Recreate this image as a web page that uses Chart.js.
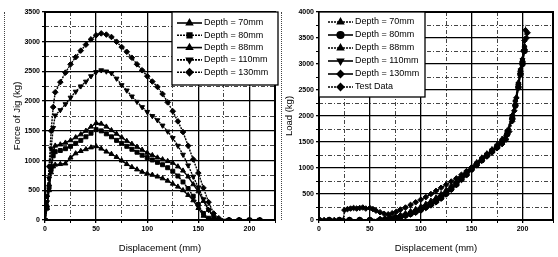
<!DOCTYPE html>
<html>
<head>
<meta charset="utf-8">
<script src="https://cdn.jsdelivr.net/npm/chart.js@4.4.0/dist/chart.umd.min.js"></script>
<style>
  body { margin: 0; background: #fff; width: 558px; height: 257px; position: relative; overflow: hidden; }
  .panel { position: absolute; top: 0; width: 280px; height: 257px; }
  #leftPanel { left: 0; }
  #rightPanel { left: 278px; }
  .cut { position: absolute; top: 12px; height: 208px; border-left: 1px dotted #444; }
</style>
</head>
<body>
<div class="cut" style="left:4px"></div>
<div class="cut" style="left:281px"></div>
<div class="panel" id="leftPanel"><canvas id="leftChart" width="280" height="257"></canvas></div>
<div class="panel" id="rightPanel"><canvas id="rightChart" width="280" height="257"></canvas></div>
<script>
// left chart: force of jig vs displacement
const leftX = [0, 2, 4, 6, 8, 10, 15, 20, 25, 30, 35, 40, 45, 50, 55, 60, 65, 70, 75, 80, 85, 90, 95, 100,
  105, 110, 115, 120, 125, 130, 135, 140, 145, 150, 155, 160, 165, 170, 180, 190, 200, 210];
const depth70 = [0, 200, 500, 800, 900, 930, 940, 950, 1050, 1120, 1160, 1190, 1220, 1240, 1200, 1150, 1110, 1060, 1000, 940,
  890, 850, 810, 780, 760, 730, 700, 660, 610, 560, 500, 420, 330, 200, 70, 10, 0, 0, 0, 0, 0, 0];
const depth80 = [0, 200, 550, 850, 1080, 1150, 1170, 1200, 1240, 1290, 1340, 1400, 1460, 1520, 1500, 1450, 1400, 1340, 1290, 1240,
  1190, 1140, 1090, 1050, 1010, 970, 930, 880, 820, 740, 640, 530, 400, 260, 110, 30, 0, 0, 0, 0, 0, 0];
const depth88 = [0, 250, 600, 900, 1150, 1250, 1270, 1300, 1340, 1390, 1440, 1500, 1570, 1630, 1620, 1570, 1510, 1450, 1390, 1330,
  1280, 1230, 1180, 1130, 1090, 1050, 1020, 990, 960, 900, 830, 730, 600, 480, 320, 170, 50, 0, 0, 0, 0, 0];
const depth110 = [0, 300, 700, 1200, 1550, 1760, 1850, 1950, 2060, 2160, 2250, 2330, 2420, 2490, 2520, 2500, 2470, 2380, 2270, 2180,
  2080, 1990, 1900, 1820, 1750, 1680, 1590, 1490, 1380, 1250, 1100, 920, 730, 550, 350, 170, 50, 0, 0, 0, 0, 0];
const depth130 = [0, 400, 900, 1500, 1900, 2150, 2320, 2480, 2620, 2740, 2850, 2950, 3040, 3110, 3140, 3120, 3080, 3000, 2910, 2830,
  2730, 2620, 2520, 2420, 2330, 2240, 2120, 1980, 1830, 1660, 1480, 1250, 1020, 790, 540, 300, 110, 30, 0, 0, 0, 0];
const leftLabels = ['Depth = 70mm', 'Depth = 80mm', 'Depth = 88mm', 'Depth = 110mm', 'Depth = 130mm'];

// right chart: load vs displacement, simulations and test
const simX = [0, 10, 20, 30, 40, 50, 60, 65, 70, 75, 80, 85, 90, 95, 100, 105, 110, 115, 120, 125, 130, 135, 140, 145,
  150, 155, 160, 165, 170, 175, 180, 185, 190, 193, 196, 198, 200, 202];
const sim70 = [0, 0, 0, 0, 0, 0, 10, 20, 30, 50, 70, 100, 130, 170, 210, 260, 310, 380, 450, 530, 620, 710, 800, 900,
  1000, 1080, 1170, 1250, 1330, 1420, 1520, 1680, 1980, 2250, 2600, 2850, 3050, 3300];
const sim80 = [0, 0, 0, 0, 0, 0, 0, 10, 25, 40, 60, 90, 120, 160, 200, 250, 300, 360, 430, 510, 600, 690, 790, 880,
  980, 1070, 1150, 1240, 1320, 1400, 1500, 1650, 1950, 2200, 2550, 2800, 3000, 3250];
const sim88 = [0, 0, 0, 0, 0, 5, 20, 35, 50, 70, 100, 130, 170, 210, 260, 310, 370, 430, 500, 580, 660, 750, 840, 930,
  1020, 1110, 1200, 1280, 1360, 1450, 1560, 1720, 2020, 2300, 2650, 2900, 3100, 3350];
const sim110 = [0, 0, 0, 0, 0, 0, 5, 15, 30, 45, 65, 95, 125, 165, 205, 255, 305, 370, 440, 520, 610, 700, 790, 890,
  990, 1090, 1180, 1260, 1340, 1430, 1530, 1700, 2000, 2280, 2620, 2880, 3080, 3320];
const sim130 = [0, 0, 0, 0, 0, 0, 0, 0, 15, 30, 50, 75, 105, 140, 180, 230, 280, 340, 410, 490, 580, 670, 770, 860,
  960, 1050, 1140, 1230, 1310, 1390, 1490, 1640, 1940, 2200, 2560, 2820, 3020, 3280];
const testX = [0, 5, 10, 15, 20, 24, 25, 28, 31, 34, 37, 40, 43, 46, 50, 53, 56, 60, 64, 68, 72, 76, 80, 85, 90, 95,
  100, 105, 110, 115, 120, 125, 130, 135, 140, 145, 150, 155, 160, 165, 170, 175, 180, 184, 187, 190, 192, 194,
  196, 198, 200, 201, 202, 203, 204, 205];
const testY = [0, 0, 0, 0, 0, 0, 190, 210, 220, 230, 220, 230, 240, 220, 230, 210, 180, 150, 120, 110, 130, 160, 200, 240, 290, 340,
  390, 440, 500, 560, 620, 680, 740, 800, 870, 940, 1010, 1080, 1150, 1220, 1300, 1380, 1460, 1550, 1700, 1900, 2100, 2350,
  2600, 2850, 3050, 3250, 3450, 3650, 3500, 3600];
const rightLabels = ['Depth = 70mm', 'Depth = 80mm', 'Depth = 88mm', 'Depth = 110mm', 'Depth = 130mm', 'Test Data'];

const FONT = 'Liberation Sans';

function pts(xs, ys) {
  return xs.map((x, i) => ({ x: x, y: ys[i] }));
}

function series(label, xs, ys, style, rot, dash) {
  return {
    label: label,
    data: pts(xs, ys),
    borderColor: '#000',
    backgroundColor: '#000',
    borderWidth: 1.4,
    borderDash: dash || [],
    pointStyle: style,
    rotation: rot || 0,
    pointRadius: 2.8,
    pointBorderWidth: 1,
    pointBackgroundColor: '#000',
    pointBorderColor: '#000',
    tension: 0
  };
}

function axis(max, step, major, title, titlePad, isY, size) {
  return {
    type: 'linear',
    min: 0,
    max: max,
    afterFit: s => { if (isY) s.width = size; else s.height = size; },
    ticks: {
      stepSize: step,
      autoSkip: false,
      maxRotation: 0,
      padding: 2,
      color: '#000',
      font: { size: 7, family: FONT, weight: 'bold' },
      callback: v => (v % major === 0 ? v : '')
    },
    grid: {
      color: c => (c.tick && c.tick.value % major !== 0 ? '#444' : '#000'),
      lineWidth: c => (c.tick && c.tick.value % major !== 0 ? 1 : 1.3),
      tickLength: 3,
      tickColor: '#000'
    },
    border: {
      display: false,
      dash: c => (c.tick && c.tick.value % major !== 0 ? [4, 2, 1, 2] : [])
    },
    title: {
      display: true,
      text: title,
      color: '#000',
      font: { size: 9.5, family: FONT },
      padding: titlePad
    }
  };
}

// box round the plot area
const framePlugin = {
  id: 'frame',
  afterDraw(chart) {
    const a = chart.chartArea, ctx = chart.ctx;
    ctx.save();
    ctx.strokeStyle = '#000';
    ctx.lineWidth = 2;
    ctx.strokeRect(a.left, a.top, a.right - a.left, a.bottom - a.top);
    ctx.restore();
  }
};

// legend with line + marker samples, drawn in a box inside the plot
function boxLegend(box) {
  return {
    id: 'boxLegend',
    afterDraw(chart) {
      const ctx = chart.ctx;
      ctx.save();
      ctx.fillStyle = '#fff';
      ctx.fillRect(box.x, box.y, box.w, box.h);
      ctx.strokeStyle = '#000';
      ctx.lineWidth = 1.3;
      ctx.strokeRect(box.x, box.y, box.w, box.h);
      ctx.font = '9px "' + FONT + '"';
      ctx.textBaseline = 'middle';
      chart.data.datasets.forEach((ds, i) => {
        const y = box.row0 + i * box.step;
        ctx.strokeStyle = '#000';
        ctx.lineWidth = 1.6;
        ctx.setLineDash(ds.borderDash.length ? [2, 1] : []);
        ctx.beginPath();
        ctx.moveTo(box.x1, y);
        ctx.lineTo(box.x2, y);
        ctx.stroke();
        ctx.setLineDash([]);
        ctx.fillStyle = '#000';
        Chart.helpers.drawPoint(ctx, {
          pointStyle: ds.pointStyle, radius: 3.3, rotation: ds.rotation, borderWidth: 1
        }, (box.x1 + box.x2) / 2, y);
        ctx.fillStyle = '#000';
        ctx.fillText(ds.label, box.tx, y);
      });
      ctx.restore();
    }
  };
}

new Chart(document.getElementById('leftChart'), {
  type: 'line',
  data: {
    datasets: [
      series(leftLabels[0], leftX, depth70, 'triangle', 0),
      series(leftLabels[1], leftX, depth80, 'rect', 0, [2, 1]),
      series(leftLabels[2], leftX, depth88, 'triangle', 0),
      series(leftLabels[3], leftX, depth110, 'triangle', 180, [2, 1]),
      series(leftLabels[4], leftX, depth130, 'rectRot', 0, [2, 1])
    ]
  },
  options: {
    responsive: false,
    animation: false,
    layout: { padding: { top: 12, right: 1, left: 0, bottom: 0 } },
    plugins: { legend: { display: false }, tooltip: { enabled: false } },
    scales: {
      x: axis(225, 25, 50, 'Displacement (mm)', { top: 0, bottom: 3 }, false, 37),
      y: axis(3500, 250, 500, 'Force of Jig (kg)', { top: 12, bottom: 0 }, true, 45)
    }
  },
  plugins: [framePlugin, boxLegend({ x: 172, y: 12, w: 106, h: 73, row0: 23, step: 12.3, x1: 177, x2: 202, tx: 204 })]
});

new Chart(document.getElementById('rightChart'), {
  type: 'line',
  data: {
    datasets: [
      series(rightLabels[0], simX, sim70, 'triangle', 0, [2, 1]),
      series(rightLabels[1], simX, sim80, 'circle', 0),
      series(rightLabels[2], simX, sim88, 'triangle', 0, [2, 1]),
      series(rightLabels[3], simX, sim110, 'triangle', 180),
      series(rightLabels[4], simX, sim130, 'rectRot', 0),
      series(rightLabels[5], testX, testY, 'rectRot', 0, [2, 1])
    ]
  },
  options: {
    responsive: false,
    animation: false,
    layout: { padding: { top: 12, right: 1, left: 0, bottom: 0 } },
    plugins: { legend: { display: false }, tooltip: { enabled: false } },
    scales: {
      x: axis(230, 25, 50, 'Displacement (mm)', { top: 0, bottom: 3 }, false, 37),
      y: axis(4000, 250, 500, 'Load (kg)', { top: 6, bottom: 0 }, true, 41)
    }
  },
  plugins: [framePlugin, boxLegend({ x: 41, y: 12, w: 106, h: 85, row0: 22, step: 13, x1: 50, x2: 75, tx: 77 })]
});
</script>
</body>
</html>
